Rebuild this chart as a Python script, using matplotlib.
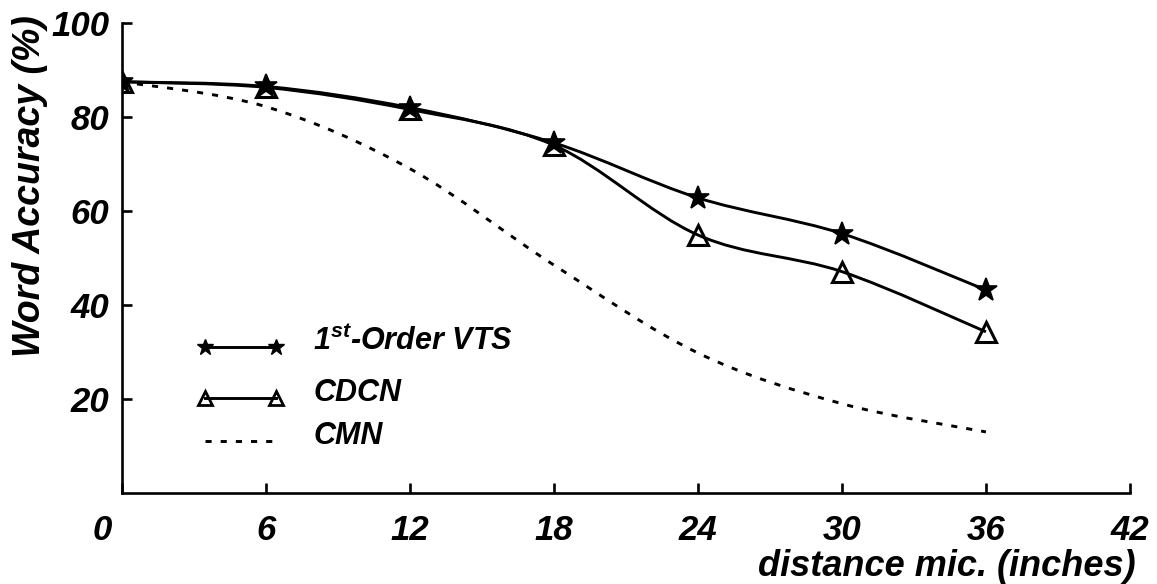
import matplotlib
matplotlib.use("Agg")
import matplotlib.pyplot as plt
from matplotlib.path import Path
from matplotlib.patches import PathPatch
import numpy as np

plt.rcParams["font.family"] = ["Liberation Sans", "DejaVu Sans"]
plt.rcParams["font.weight"] = "bold"
plt.rcParams["font.style"] = "italic"
plt.rcParams["mathtext.fontset"] = "custom"
plt.rcParams["mathtext.rm"] = "Liberation Sans:italic:bold"
plt.rcParams["mathtext.it"] = "Liberation Sans:italic:bold"

# microphone distance (inches) and word accuracy (%)
distance = [0, 6, 12, 18, 24, 30, 36]
vts_acc = [87.5, 86.5, 82.0, 74.5, 62.8, 55.2, 43.2]
cdcn_acc = [87.5, 86.3, 81.6, 74.0, 54.9, 47.1, 34.3]
cmn_acc = [87.5, 82.2, 69.0, 48.5, 29.8, 19.0, 13.0]

x_ticks = [0, 6, 12, 18, 24, 30, 36, 42]
y_ticks = [20, 40, 60, 80, 100]

LW = 2.1


def smooth_path(xs, ys):
    """Catmull-Rom through the points, as cubic bezier segments"""
    pts = np.column_stack([xs, ys]).astype(float)
    verts = [pts[0]]
    codes = [Path.MOVETO]
    n = len(pts)
    for i in range(n - 1):
        p0 = pts[max(i - 1, 0)]
        p1 = pts[i]
        p2 = pts[i + 1]
        p3 = pts[min(i + 2, n - 1)]
        c1 = p1 + (p2 - p0) / 6.0
        c2 = p2 - (p3 - p1) / 6.0
        verts += [c1, c2, p2]
        codes += [Path.CURVE4] * 3
    return Path(verts, codes)


def curve(ax, xs, ys, **kw):
    patch = PathPatch(smooth_path(xs, ys), facecolor="none",
                      edgecolor="black", **kw)
    ax.add_patch(patch)
    return patch


fig = plt.figure(figsize=(11.57, 5.84), dpi=100)
ax = fig.add_axes([0.1054, 0.1558, 0.8712, 0.8048])

curve(ax, distance, cmn_acc, linewidth=LW, linestyle=(0, (2.1, 3.1)))
curve(ax, distance, cdcn_acc, linewidth=LW)
curve(ax, distance, vts_acc, linewidth=LW)

ax.plot(distance, vts_acc, linestyle="none", marker="*", markersize=17,
        markerfacecolor="black", markeredgecolor="black", markeredgewidth=1.2)
ax.plot(distance, cdcn_acc, linestyle="none", marker="^", markersize=15,
        markerfacecolor="none", markeredgecolor="black", markeredgewidth=2.2)

ax.set_xlim(0, 42)
ax.set_ylim(0, 100)
ax.set_xticks(x_ticks)
ax.set_xticklabels([""] + [str(t) for t in x_ticks[1:]])
ax.set_yticks(y_ticks)
ax.set_yticklabels([str(t) for t in y_ticks])
for s in ["top", "right"]:
    ax.spines[s].set_visible(False)
for s in ["left", "bottom"]:
    ax.spines[s].set_linewidth(1.9)
ax.tick_params(axis="x", direction="in", length=7, width=1.9, pad=15,
               labelsize=25)
ax.tick_params(axis="y", direction="in", length=7, width=1.9, pad=9,
               labelsize=25)
# the zero label sits a little left of its tick
ax.annotate("0", xy=(0, 0), xycoords="data", xytext=(-14, -15),
            textcoords="offset points", ha="center", va="top", fontsize=25)

# legend
leg_rows = [
    (0.311, dict(marker="*", markersize=12, markerfacecolor="black",
                 markeredgecolor="black", linestyle="-"),
     "1$^{st}$-Order VTS"),
    (0.202, dict(marker="^", markersize=10, markerfacecolor="none",
                 markeredgecolor="black", markeredgewidth=2,
                 linestyle="-"), "CDCN"),
    (0.111, dict(marker="none", linestyle=(0, (2.1, 3.1))), "CMN"),
]
for y, style, label in leg_rows:
    ax.plot([0.082, 0.153], [y, y], transform=ax.transAxes, color="black",
            linewidth=LW, clip_on=False, **style)
    ax.text(0.19, y + 0.01, label, transform=ax.transAxes, fontsize=22,
            va="center", ha="left")

fig.text(30 / 1157, 1 - 186 / 584, "Word Accuracy (%)", rotation=90,
         ha="center", va="center", fontsize=27)
fig.text(1136 / 1157, 1 - 566 / 584, "distance mic. (inches)",
         ha="right", va="center", fontsize=26)

fig.savefig("out.png", dpi=100)
